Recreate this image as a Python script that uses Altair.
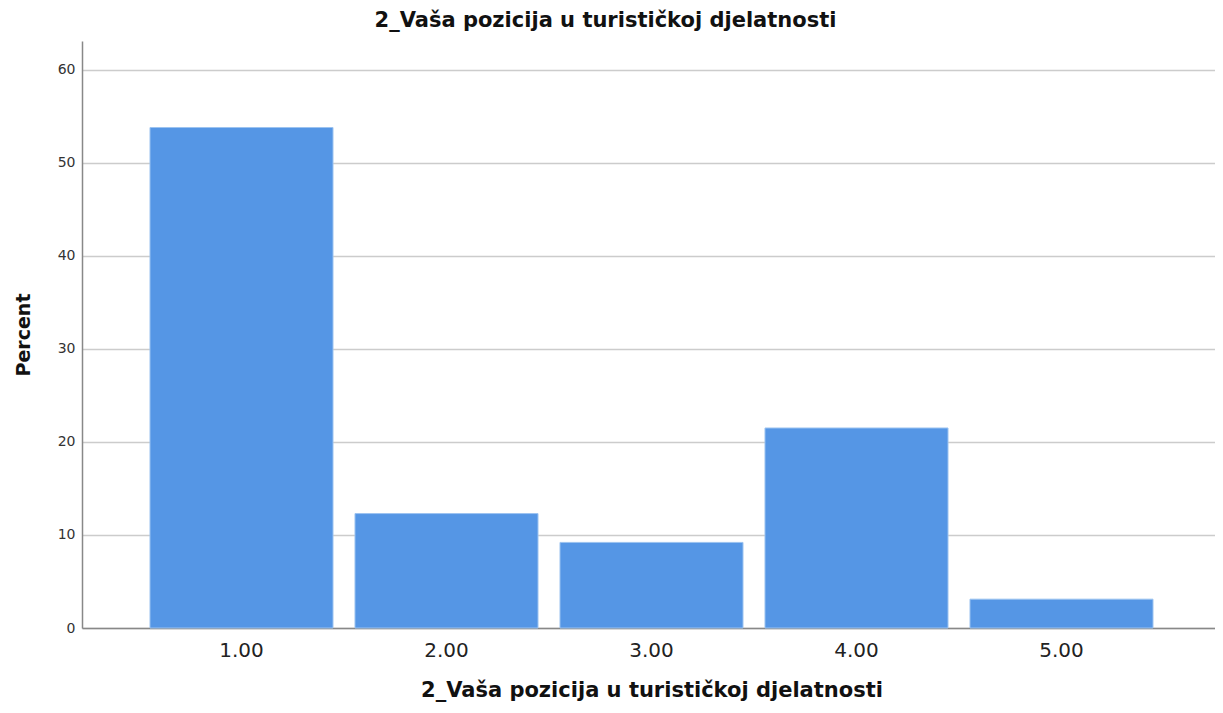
import altair as alt
import pandas as pd

categories = ["1.00", "2.00", "3.00", "4.00", "5.00"]
percents = [53.8, 12.3, 9.2, 21.5, 3.1]
y_ticks = [0, 10, 20, 30, 40, 50, 60]

title_text = "2_Vaša pozicija u turističkoj djelatnosti"

df = pd.DataFrame({"cat": categories, "pct": percents})

FONT = "DejaVu Sans"

chart = (
    alt.Chart(df)
    .mark_bar(color="#5596E5", stroke="#9cc3f0", strokeWidth=1)
    .encode(
        x=alt.X(
            "cat:N",
            sort=categories,
            scale=alt.Scale(paddingInner=0.1073, paddingOuter=0.3317, range=[0, 1139]),
            axis=alt.Axis(
                title=title_text,
                labelAngle=0,
                labelFontSize=20,
                labelColor="#222222",
                labelFont=FONT,
                labelPadding=12,
                ticks=False,
                domainColor="#888888",
                domainWidth=1.5,
                titleFont=FONT,
                titleFontSize=21,
                titleFontWeight="bold",
                titleColor="#111111",
                titlePadding=19,
                grid=False,
            ),
        ),
        y=alt.Y(
            "pct:Q",
            scale=alt.Scale(domain=[0, 63.1], nice=False),
            axis=alt.Axis(
                title="Percent",
                values=y_ticks,
                labelFontSize=14,
                labelColor="#333333",
                labelFont=FONT,
                labelPadding=7,
                ticks=False,
                domainColor="#888888",
                domainWidth=1.5,
                gridColor="#cccccc",
                gridWidth=1.5,
                titleFont=FONT,
                titleFontSize=19,
                titleFontWeight="bold",
                titleColor="#111111",
                titlePadding=24,
            ),
        ),
    )
    .properties(
        width=1133,
        height=587,
        autosize=alt.AutoSizeParams(type="none"),
        padding={"left": 74, "top": 33, "right": 0, "bottom": 77},
        title=alt.TitleParams(
            text=title_text,
            font=FONT,
            fontSize=21,
            fontWeight="bold",
            color="#111111",
            anchor="middle",
            dx=-43,
            offset=10,
        ),
    )
    .configure_view(stroke=None)
)

chart.save("out.html", embed_options={"renderer": "svg", "actions": False})
